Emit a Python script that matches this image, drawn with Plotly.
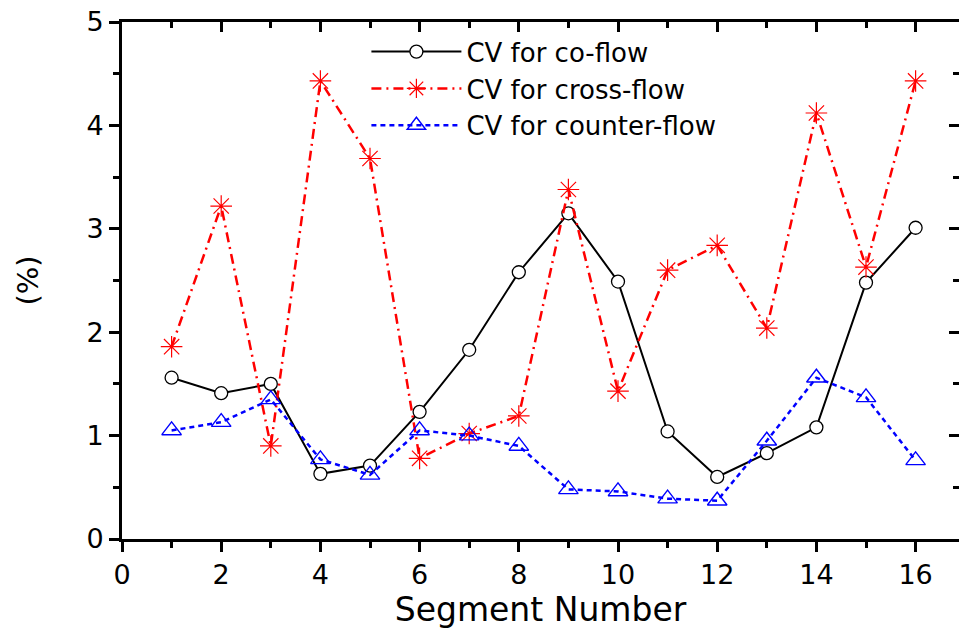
import plotly.graph_objects as go

segments = list(range(1, 17))
co_flow = [1.56, 1.41, 1.50, 0.63, 0.71, 1.23, 1.83, 2.58, 3.15, 2.49, 1.04, 0.60, 0.83, 1.08, 2.48, 3.01]
cross_flow = [1.86, 3.22, 0.90, 4.43, 3.68, 0.78, 1.02, 1.19, 3.38, 1.43, 2.60, 2.84, 2.04, 4.12, 2.63, 4.43]
counter_flow = [1.05, 1.13, 1.35, 0.77, 0.62, 1.05, 1.00, 0.90, 0.48, 0.46, 0.39, 0.37, 0.95, 1.56, 1.37, 0.76]
names = ["CV for co-flow", "CV for cross-flow", "CV for counter-flow"]
x_ticks = [0, 2, 4, 6, 8, 10, 12, 14, 16]
y_ticks = [0, 1, 2, 3, 4, 5]

FONT = "DejaVu Sans, Verdana, sans-serif"

fig = go.Figure()
fig.add_trace(go.Scatter(
    x=segments, y=co_flow, name=names[0], mode="lines+markers",
    line=dict(color="black", width=2),
    marker=dict(symbol="circle", size=13, color="white", line=dict(color="black", width=1.3)),
))
fig.add_trace(go.Scatter(
    x=segments, y=cross_flow, name=names[1], mode="lines+markers",
    line=dict(color="#ff0000", width=2.5, dash="10px,5px,2px,5px"),
    marker=dict(symbol="asterisk-open", size=18, color="#ff0000", line=dict(color="#ff0000", width=1.2)),
))
fig.add_trace(go.Scatter(
    x=segments, y=counter_flow, name=names[2], mode="lines+markers",
    line=dict(color="#0000ff", width=2.5, dash="5px,4px"),
    marker=dict(symbol="triangle-up-open", size=17, color="#0000ff", line=dict(color="#0000ff", width=1.4)),
))

xr = [0, 16.875]
yr = [0, 5]
fig.update_layout(
    width=959, height=630,
    margin=dict(l=122, r=0, t=22, b=91),
    paper_bgcolor="white", plot_bgcolor="white",
    font=dict(family=FONT, color="black"),
    showlegend=True,
    legend=dict(x=0.292, y=0.988, xanchor="left", yanchor="top",
                font=dict(size=26, family=FONT), bgcolor="rgba(0,0,0,0)",
                itemwidth=90, tracegroupgap=0),
    xaxis=dict(range=xr, tickvals=x_ticks, ticks="outside", ticklen=10, tickwidth=3,
               tickcolor="black", showline=True, linewidth=3, linecolor="black",
               showgrid=False, zeroline=False, tickfont=dict(size=27, family=FONT),
               minor=dict(dtick=1, tick0=0, ticks="outside", ticklen=6, tickwidth=3, tickcolor="black"),
               title=dict(text="Segment Number", font=dict(size=33, family=FONT), standoff=5)),
    yaxis=dict(range=yr, tickvals=y_ticks, ticks="outside", ticklen=10, tickwidth=3,
               tickcolor="black", showline=True, linewidth=3, linecolor="black",
               showgrid=False, zeroline=False, tickfont=dict(size=27, family=FONT),
               minor=dict(dtick=0.5, tick0=0, ticks="outside", ticklen=6, tickwidth=3, tickcolor="black"),
               title=dict(text="(%)", font=dict(size=29, family=FONT), standoff=40)),
    xaxis2=dict(range=xr, overlaying="x", side="top", tickvals=x_ticks, ticks="inside",
                ticklen=10, tickwidth=3, tickcolor="black", showline=True, linewidth=3,
                linecolor="black", showticklabels=False, showgrid=False, zeroline=False,
                minor=dict(dtick=1, tick0=0, ticks="inside", ticklen=6, tickwidth=3, tickcolor="black")),
    yaxis2=dict(range=yr, overlaying="y", side="right", tickvals=y_ticks, ticks="inside",
                ticklen=10, tickwidth=3, tickcolor="black", showline=False,
                showticklabels=False, showgrid=False, zeroline=False,
                minor=dict(dtick=0.5, tick0=0, ticks="inside", ticklen=6, tickwidth=3, tickcolor="black")),
)
# invisible trace to activate the mirrored axes
fig.add_trace(go.Scatter(x=[None], y=[None], xaxis="x2", yaxis="y2", showlegend=False, hoverinfo="skip"))

fig.write_html("out.html")
